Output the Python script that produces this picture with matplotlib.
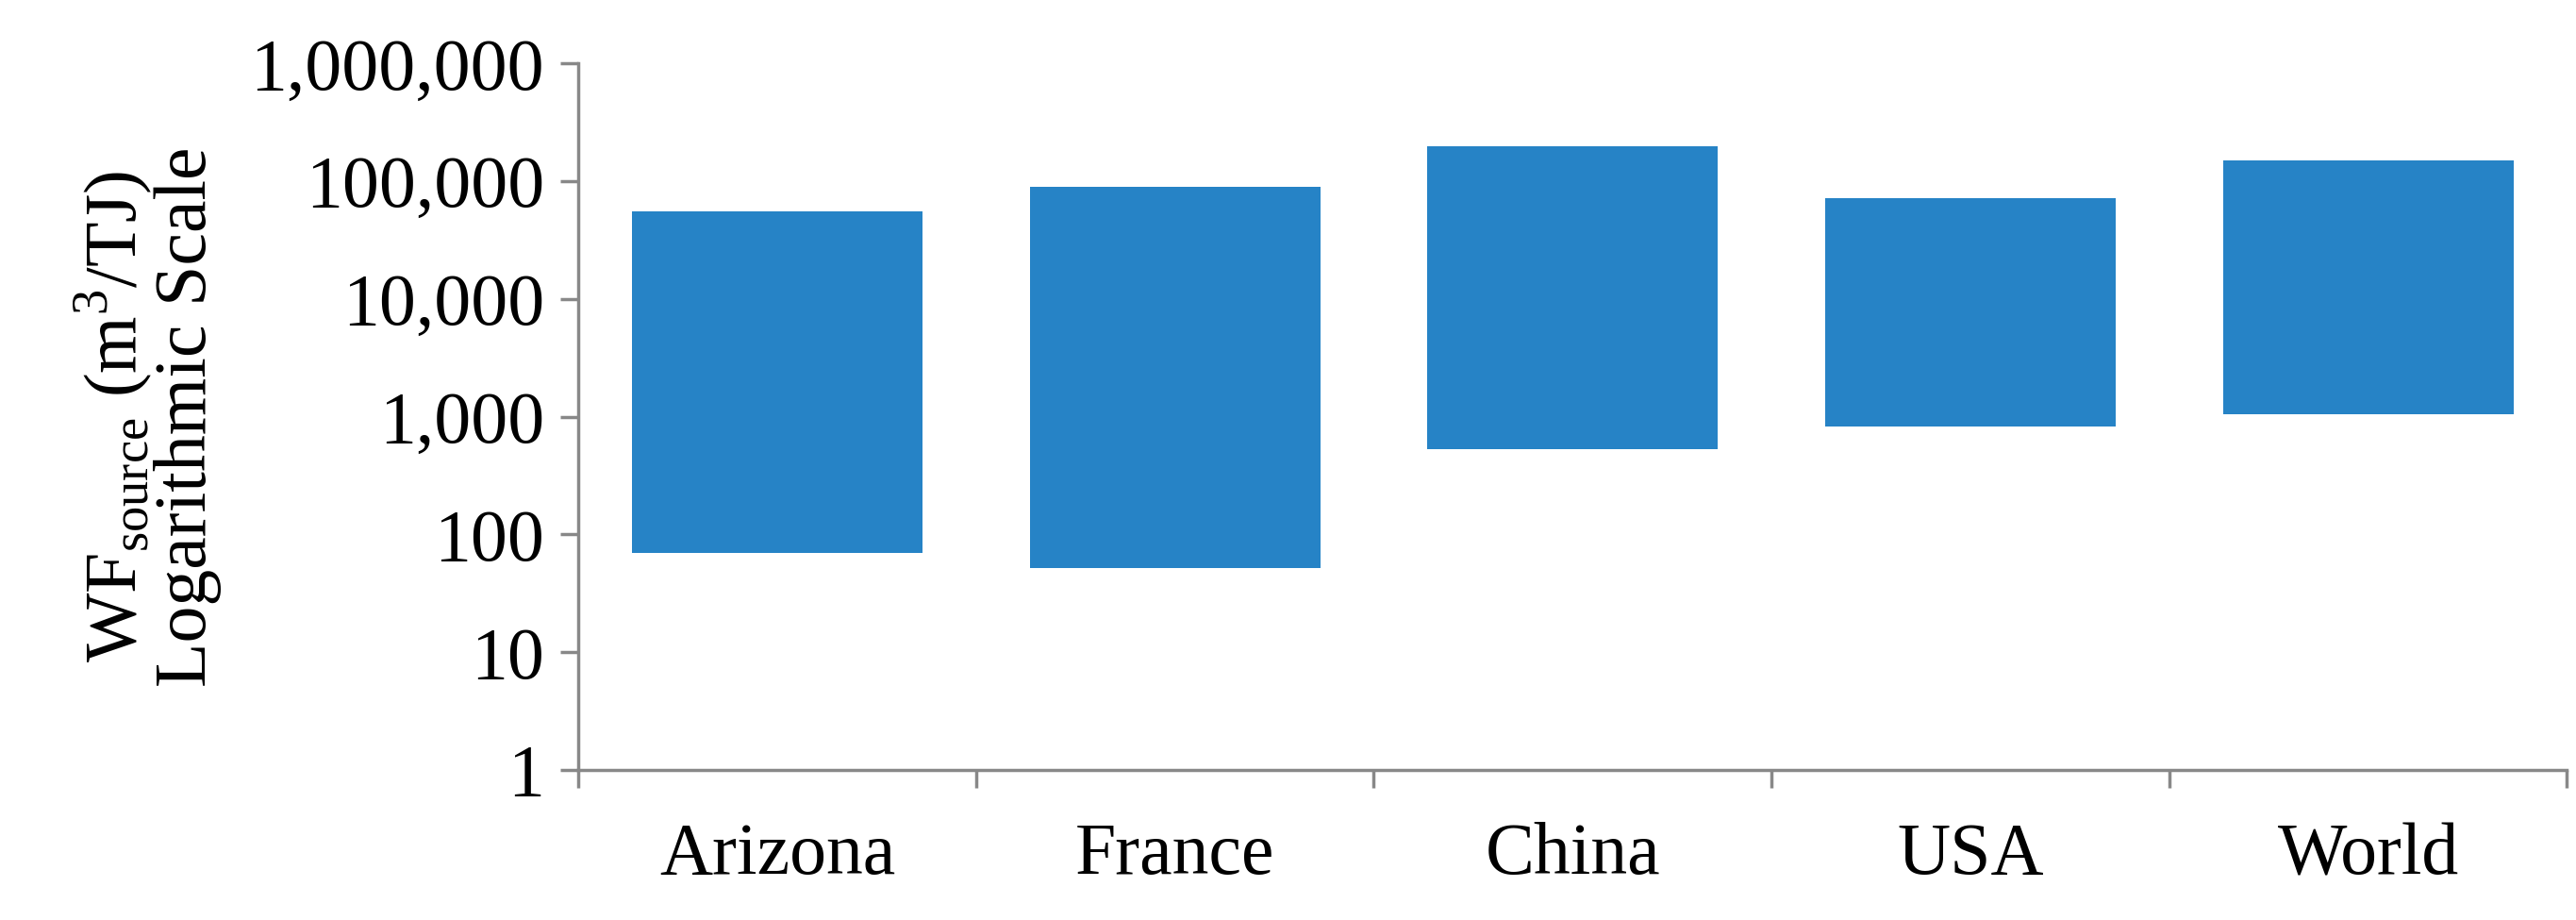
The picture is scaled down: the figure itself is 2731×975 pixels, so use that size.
import matplotlib
matplotlib.use('Agg')
import matplotlib.pyplot as plt
import numpy as np

regions = ['Arizona', 'France', 'China', 'USA', 'World']
wf_low = [70, 52, 530, 820, 1050]
wf_high = [55000, 90000, 200000, 72000, 150000]

plt.rcParams['font.family'] = ['Liberation Serif', 'DejaVu Serif']
fs = 56

fig = plt.figure(figsize=(27.31, 9.75), dpi=100)
ax = fig.add_axes([0.2245, 0.163, 0.772, 0.768])

x = np.arange(len(regions))
heights = [h - l for l, h in zip(wf_low, wf_high)]
ax.bar(x, heights, bottom=wf_low, width=0.73, color='#2683C6')

ax.set_yscale('log')
ax.set_ylim(1, 1e6)
ax.set_xlim(-0.5, len(regions) - 0.5)
yt = [1, 10, 100, 1000, 10000, 100000, 1000000]
ax.set_yticks(yt)
ax.set_yticklabels([f'{v:,}' for v in yt], fontsize=fs)
ax.yaxis.set_minor_locator(matplotlib.ticker.NullLocator())

ax.set_xticks(x)
ax.set_xticklabels(regions, fontsize=fs)
ax.tick_params(axis='x', length=0, pad=40)
ax.set_xticks(np.arange(-0.5, len(regions)), minor=True)
ax.tick_params(axis='x', which='minor', length=14, width=2.5, color='#888888')
ax.tick_params(axis='y', length=14, width=2.5, color='#888888', pad=12)

for s in ['top', 'right']:
    ax.spines[s].set_visible(False)
for s in ['left', 'bottom']:
    ax.spines[s].set_color('#888888')
    ax.spines[s].set_linewidth(2.5)

ax.set_ylabel('WF$_{\\mathregular{source}}$ (m$^{\\mathregular{3}}$/TJ)\nLogarithmic Scale',
              fontsize=fs, labelpad=22, linespacing=1.0)

fig.savefig('out.png', dpi=100)
